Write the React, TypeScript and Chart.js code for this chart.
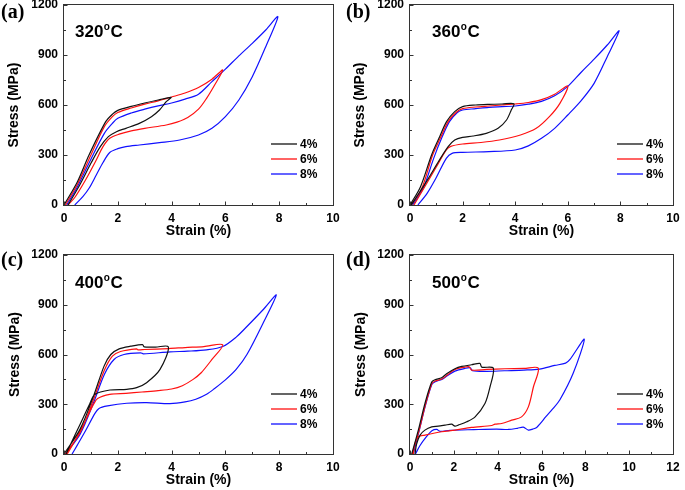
import React, { useEffect, useRef } from "react";
import { Chart, registerables } from "chart.js";
Chart.register(...registerables);

const FONT = "'Liberation Sans', Arial, sans-serif";
const SERIF = "'Liberation Serif', 'Times New Roman', serif";

const seriesNames = ["4%", "6%", "8%"];
const seriesColors = ["#111111", "#ff1010", "#1010ff"];
const panelLabels = ["(a)", "(b)", "(c)", "(d)"];
const tempValues = ["320", "360", "400", "500"];
const xMaxes = [10, 10, 10, 12];
const yMax = 1200;
const yStep = 300;
const xStep = 2;

// Panel (a) 320 °C
const strainA4 = [0, 0.5, 0.93, 1.55, 1.8, 2.0, 2.5, 3.0, 3.5, 3.98, 3.8, 3.55, 3.25, 2.8, 2.3, 1.95, 1.65, 1.35, 1.0, 0.6, 0.15];
const stressA4 = [0, 140, 300, 500, 545, 568, 592, 612, 630, 646, 620, 570, 530, 490, 460, 440, 410, 350, 250, 125, 0];
const strainA6 = [0.05, 0.5, 1.0, 1.5, 1.8, 2.0, 2.5, 3.0, 3.5, 4.0, 4.5, 5.0, 5.5, 5.9, 5.6, 5.3, 5.0, 4.6, 4.2, 3.8, 3.0, 2.5, 2.05, 1.7, 1.45, 1.2, 0.8, 0.4, 0.15];
const stressA6 = [0, 125, 300, 470, 530, 555, 582, 605, 625, 648, 672, 705, 755, 810, 720, 640, 575, 525, 497, 480, 460, 445, 425, 400, 350, 270, 150, 45, 0];
const strainA8 = [0.1, 0.5, 1.0, 1.5, 1.8, 2.0, 2.5, 3.0, 3.5, 4.0, 4.5, 5.0, 5.5, 6.0, 6.5, 7.0, 7.5, 7.95, 7.5, 7.0, 6.5, 6.0, 5.5, 5.0, 4.3, 3.55, 2.8, 2.3, 2.0, 1.7, 1.45, 1.2, 0.95, 0.7, 0.4];
const stressA8 = [0, 110, 275, 430, 490, 520, 552, 575, 595, 612, 635, 665, 740, 815, 895, 970, 1050, 1130, 950, 770, 630, 530, 460, 420, 390, 374, 360, 350, 338, 315, 255, 180, 105, 50, 0];

// Panel (b) 360 °C
const strainB4 = [0, 0.4, 0.82, 1.1, 1.39, 1.7, 2.0, 2.5, 3.0, 3.5, 3.95, 3.85, 3.67, 3.35, 2.9, 2.4, 2.0, 1.7, 1.45, 1.1, 0.7, 0.3, 0.05];
const stressB4 = [0, 110, 300, 400, 500, 560, 590, 600, 604, 606, 607, 570, 510, 460, 430, 414, 406, 390, 350, 265, 160, 60, 0];
const strainB6 = [0.05, 0.45, 0.86, 1.15, 1.45, 1.75, 2.0, 2.5, 3.0, 3.5, 4.0, 4.5, 5.0, 5.5, 6.0, 5.7, 5.3, 4.8, 4.2, 3.4, 2.7, 2.0, 1.55, 1.38, 1.0, 0.6, 0.15];
const stressB6 = [0, 100, 300, 400, 500, 555, 578, 588, 594, 600, 606, 615, 632, 665, 714, 610, 530, 460, 420, 390, 375, 366, 352, 330, 228, 120, 0];
const strainB8 = [0.1, 0.5, 0.9, 1.2, 1.5, 1.8, 2.0, 2.5, 3.0, 3.5, 4.0, 4.5, 5.0, 5.5, 6.0, 6.5, 7.0, 7.5, 7.95, 7.5, 7.0, 6.5, 6.0, 5.5, 5.0, 4.5, 4.0, 3.0, 2.0, 1.6, 1.38, 1.0, 0.65, 0.3];
const stressB8 = [0, 100, 280, 400, 500, 555, 570, 578, 586, 590, 594, 605, 622, 655, 712, 795, 875, 960, 1045, 890, 730, 625, 540, 460, 400, 355, 330, 320, 316, 310, 280, 165, 70, 0];

// Panel (c) 400 °C
const strainC4 = [0, 0.6, 1.1, 1.49, 1.74, 2.05, 2.48, 2.92, 2.98, 3.4, 3.88, 3.57, 3.07, 2.7, 2.33, 1.71, 1.15, 0.95, 0.6, 0.25, 0.08];
const stressC4 = [0, 150, 350, 530, 600, 634, 650, 660, 646, 645, 646, 510, 430, 400, 390, 386, 360, 300, 180, 60, 0];
const strainC6 = [0.05, 0.6, 1.1, 1.5, 1.8, 2.1, 2.7, 2.75, 3.0, 3.9, 4.5, 5.2, 5.9, 5.5, 5.1, 4.8, 4.4, 4.0, 3.5, 2.9, 2.3, 1.7, 1.25, 1.1, 0.7, 0.3, 0.12];
const stressC6 = [0, 130, 330, 505, 590, 618, 634, 628, 630, 636, 642, 648, 658, 570, 490, 450, 412, 392, 382, 374, 366, 360, 335, 300, 170, 50, 0];
const strainC8 = [0.05, 0.6, 1.1, 1.5, 1.86, 2.23, 2.85, 2.95, 3.94, 4.6, 5.3, 5.9, 6.4, 6.8, 7.4, 7.89, 7.4, 6.8, 6.4, 6.0, 5.6, 5.3, 4.9, 4.5, 3.94, 3.07, 2.33, 1.62, 1.3, 1.15, 0.8, 0.5, 0.3];
const stressC8 = [0, 120, 310, 480, 570, 600, 610, 604, 616, 620, 628, 648, 705, 769, 870, 959, 789, 600, 510, 447, 395, 360, 330, 314, 304, 310, 306, 290, 275, 245, 140, 55, 0];

// Panel (d) 500 °C
const strainD4 = [0.08, 0.38, 0.68, 0.99, 1.14, 1.44, 1.67, 2.05, 2.36, 2.81, 3.19, 3.27, 3.8, 3.65, 3.42, 2.97, 2.59, 2.2, 2.05, 1.9, 1.6, 1.29, 0.99, 0.68, 0.46, 0.3, 0.23];
const stressD4 = [0, 144, 304, 434, 448, 460, 484, 514, 528, 538, 546, 524, 518, 404, 304, 224, 194, 174, 168, 180, 174, 168, 164, 144, 114, 60, 0];
const strainD6 = [0.1, 0.4, 0.7, 1.0, 1.15, 1.45, 1.7, 2.05, 2.5, 2.7, 2.81, 3.5, 4.33, 5.2, 5.85, 5.63, 5.4, 5.09, 4.64, 4.18, 3.88, 3.73, 2.81, 2.05, 1.44, 0.68, 0.38, 0.23, 0.15];
const stressD6 = [0, 135, 295, 425, 440, 452, 476, 510, 524, 526, 506, 510, 514, 516, 518, 404, 284, 224, 204, 184, 180, 172, 160, 144, 134, 114, 104, 64, 0];
const strainD8 = [0.15, 0.4, 0.7, 1.0, 1.15, 1.45, 1.7, 2.05, 2.5, 2.75, 2.85, 3.5, 4.3, 5.2, 5.9, 6.6, 7.1, 7.3, 7.95, 7.45, 6.84, 6.5, 6.2, 5.95, 5.78, 5.6, 5.4, 5.17, 4.9, 4.5, 3.95, 2.9, 1.82, 1.37, 1.22, 1.0, 0.76, 0.45, 0.25];
const stressD8 = [0, 130, 290, 420, 436, 450, 472, 500, 516, 520, 502, 498, 502, 506, 512, 534, 548, 570, 692, 488, 327, 270, 225, 185, 160, 150, 144, 162, 155, 148, 150, 147, 143, 137, 148, 140, 106, 50, 0];

const panelData = [
  [[strainA4, stressA4], [strainA6, stressA6], [strainA8, stressA8]],
  [[strainB4, stressB4], [strainB6, stressB6], [strainB8, stressB8]],
  [[strainC4, stressC4], [strainC6, stressC6], [strainC8, stressC8]],
  [[strainD4, stressD4], [strainD6, stressD6], [strainD8, stressD8]],
];

type Geo = {
  cx: number; cy: number; cw: number; ch: number;
  L: number; T: number; R: number; B: number;
  yTitleX: number; labelX: number; labelY: number; tempDx: number; tempDy: number;
};

const geos: Geo[] = [
  { cx: 0, cy: -10, cw: 345, ch: 255, L: 64, T: 5, R: 333, B: 205, yTitleX: 14.5, labelX: 1, labelY: 18, tempDx: 11, tempDy: 32 },
  { cx: 340, cy: -10, cw: 345, ch: 255, L: 410, T: 5, R: 673, B: 205, yTitleX: 360, labelX: 346, labelY: 18, tempDx: 22, tempDy: 32 },
  { cx: 0, cy: 240, cw: 345, ch: 250, L: 64, T: 255, R: 333, B: 454, yTitleX: 15, labelX: 1, labelY: 266, tempDx: 11, tempDy: 33 },
  { cx: 340, cy: 240, cw: 345, ch: 250, L: 410, T: 255, R: 673, B: 454, yTitleX: 361, labelX: 346, labelY: 266, tempDx: 22, tempDy: 33 },
];

function buildConfig(idx: number): any {
  const g = geos[idx];
  const xMax = xMaxes[idx];
  const datasets = panelData[idx].map(([sx, sy], i) => ({
    label: seriesNames[i],
    data: sx.map((x, k) => ({ x, y: sy[k] })),
    borderColor: seriesColors[i],
    backgroundColor: seriesColors[i],
    borderWidth: 1.2,
    pointRadius: 0,
    showLine: true,
    fill: false,
    tension: 0.3,
  }));
  const tickFont = { family: FONT, weight: "bold" as const, size: 12 };
  const titleFont = { family: FONT, weight: "bold" as const, size: 14 };
  const halfLH = (14 * 1.2) / 2;
  const xAxisH = g.cy + g.ch - g.B;
  const yAxisW = g.L - g.cx;

  const decor = {
    id: "decor" + idx,
    afterDraw(chart: any) {
      const ctx = chart.ctx as CanvasRenderingContext2D;
      const { left, right, top, bottom } = chart.chartArea;
      const xs = chart.scales.x;
      const ys = chart.scales.y;
      ctx.save();
      ctx.strokeStyle = "#333";
      ctx.lineWidth = 1;
      const l = Math.round(left) - 0.5;
      const t = Math.round(top) - 0.5;
      const r = Math.round(right) + 0.5;
      const b = Math.round(bottom) + 0.5;
      ctx.strokeRect(l, t, r - l, b - t);
      ctx.beginPath();
      for (let v = 0; v <= xMax; v += xStep / 2) {
        const px = Math.round(xs.getPixelForValue(v)) + 0.5;
        const len = v % xStep === 0 ? 4 : 2.5;
        ctx.moveTo(px, b);
        ctx.lineTo(px, b - len);
      }
      for (let v = 0; v <= yMax; v += yStep / 2) {
        const py = Math.round(ys.getPixelForValue(v)) + 0.5;
        const len = v % yStep === 0 ? 4 : 2.5;
        ctx.moveTo(l, py);
        ctx.lineTo(l + len, py);
      }
      ctx.stroke();

      // temperature label
      ctx.fillStyle = "#000";
      ctx.textAlign = "left";
      ctx.textBaseline = "alphabetic";
      let tx = left + g.tempDx;
      const ty = top + g.tempDy;
      ctx.font = `bold 17px ${FONT}`;
      ctx.fillText(tempValues[idx], tx, ty);
      tx += ctx.measureText(tempValues[idx]).width + 0.5;
      ctx.font = `bold 10px ${FONT}`;
      ctx.fillText("o", tx, ty - 7);
      tx += ctx.measureText("o").width + 0.5;
      ctx.font = `bold 17px ${FONT}`;
      ctx.fillText("C", tx, ty);

      // panel label
      ctx.font = `bold 20px ${SERIF}`;
      ctx.fillText(panelLabels[idx], g.labelX - g.cx, g.labelY - g.cy);

      // legend
      ctx.font = `bold 12px ${FONT}`;
      ctx.textBaseline = "middle";
      for (let i = 0; i < seriesNames.length; i++) {
        const y = top + 139 + i * 15;
        ctx.strokeStyle = seriesColors[i];
        ctx.lineWidth = 1.3;
        ctx.beginPath();
        ctx.moveTo(left + 207, y);
        ctx.lineTo(left + 233, y);
        ctx.stroke();
        ctx.fillText(seriesNames[i], left + 236, y + 0.5);
      }
      ctx.restore();
    },
  };

  return {
    type: "scatter",
    data: { datasets },
    plugins: [decor],
    options: {
      animation: false,
      responsive: false,
      maintainAspectRatio: false,
      layout: { padding: { left: 0, top: g.T - g.cy, right: g.cx + g.cw - g.R, bottom: 0 } },
      plugins: { legend: { display: false }, tooltip: { enabled: false }, title: { display: false } },
      scales: {
        x: {
          type: "linear",
          min: 0,
          max: xMax,
          ticks: {
            stepSize: xStep, font: tickFont, color: "#000", padding: 6, maxRotation: 0, autoSkip: false,
            callback: (v: number) => String(v),
          },
          grid: { display: false, drawTicks: false },
          border: { display: false },
          title: {
            display: true,
            text: "Strain (%)",
            font: titleFont,
            color: "#000",
            padding: { top: 0, bottom: g.cy + g.ch - (g.B + 26) - halfLH },
          },
          afterFit: (s: any) => {
            s.height = xAxisH;
            s.paddingLeft = 0;
            s.paddingRight = 0;
          },
        },
        y: {
          type: "linear",
          min: 0,
          max: yMax,
          ticks: { stepSize: yStep, font: tickFont, color: "#000", padding: 6, callback: (v: number) => String(v) },
          grid: { display: false, drawTicks: false },
          border: { display: false },
          title: {
            display: true,
            text: "Stress (MPa)",
            font: titleFont,
            color: "#000",
            padding: { top: g.yTitleX - g.cx - halfLH, bottom: 0 },
          },
          afterFit: (s: any) => {
            s.width = yAxisW;
            s.paddingTop = 0;
            s.paddingBottom = 0;
          },
        },
      },
    },
  };
}

function Panel({ idx }: { idx: number }) {
  const ref = useRef<HTMLCanvasElement>(null);
  const g = geos[idx];
  useEffect(() => {
    const chart = new Chart(ref.current as HTMLCanvasElement, buildConfig(idx));
    return () => chart.destroy();
  }, [idx]);
  return (
    <canvas
      ref={ref}
      width={g.cw}
      height={g.ch}
      style={{ position: "absolute", left: g.cx, top: g.cy, width: g.cw, height: g.ch }}
    />
  );
}

export default function App() {
  return (
    <div style={{ position: "absolute", left: 0, top: 0, width: 685, height: 490, overflow: "hidden", background: "#fff" }}>
      {geos.map((_, i) => (
        <Panel key={i} idx={i} />
      ))}
    </div>
  );
}
